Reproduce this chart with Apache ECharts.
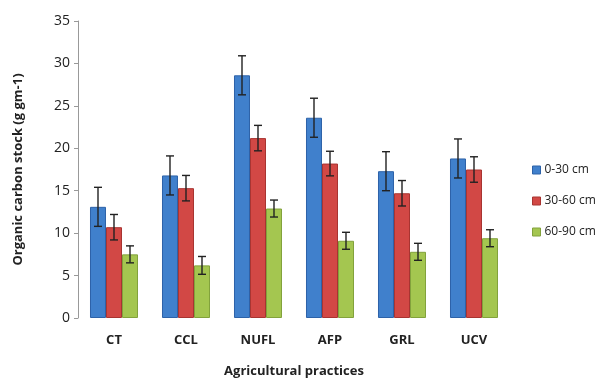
<!DOCTYPE html>
<html><head><meta charset="utf-8">
<script src="https://cdn.jsdelivr.net/npm/echarts@6/dist/echarts.min.js"></script>
<style>html,body{margin:0;padding:0;background:#fff}#c{width:603px;height:382px}</style>
</head><body><div id="c"></div>
<script>
var categories = ['CT', 'CCL', 'NUFL', 'AFP', 'GRL', 'UCV'];
var seriesNames = ['0-30 cm', '30-60 cm', '60-90 cm'];
var v0_30 = [13.1, 16.8, 28.6, 23.6, 17.3, 18.8];
var v30_60 = [10.7, 15.3, 21.2, 18.2, 14.7, 17.5];
var v60_90 = [7.5, 6.2, 12.9, 9.1, 7.8, 9.4];
var e0_30 = [2.3, 2.3, 2.3, 2.3, 2.3, 2.3];
var e30_60 = [1.5, 1.5, 1.5, 1.45, 1.5, 1.5];
var e60_90 = [1.0, 1.05, 1.0, 1.0, 1.0, 1.0];
var yTicks = [0, 5, 10, 15, 20, 25, 30, 35];

var values = [v0_30, v30_60, v60_90];
var errors = [e0_30, e30_60, e60_90];
var fills = ['#4080cc', '#d24845', '#a4c650'];
var borders = ['#2d62a8', '#a83431', '#82a23c'];
var font = '"Open Sans", "Liberation Sans", sans-serif';

var series = [];
values.forEach(function (vals, i) {
  series.push({
    name: seriesNames[i], type: 'bar', data: vals,
    barGap: '0%', barCategoryGap: '33.3%',
    itemStyle: { color: fills[i], borderColor: borders[i], borderWidth: 1 }
  });
});
values.forEach(function (vals, i) {
  series.push({
    type: 'custom', z: 10,
    data: vals.map(function (v, k) { return [k, v - errors[i][k], v + errors[i][k]]; }),
    renderItem: function (params, api) {
      var band = api.size([1, 0])[0];
      var bw = band * (2 / 3) / 3;
      var off = (i - 1) * bw;
      var lo = api.coord([api.value(0), api.value(1)]);
      var hi = api.coord([api.value(0), api.value(2)]);
      var x = lo[0] + off;
      var cap = 4;
      var st = { stroke: '#222', lineWidth: 1.4 };
      return { type: 'group', children: [
        { type: 'line', shape: { x1: x, y1: hi[1], x2: x, y2: lo[1] }, style: st },
        { type: 'line', shape: { x1: x - cap, y1: hi[1], x2: x + cap, y2: hi[1] }, style: st },
        { type: 'line', shape: { x1: x - cap, y1: lo[1], x2: x + cap, y2: lo[1] }, style: st }
      ]};
    }
  });
});

var chart = echarts.init(document.getElementById('c'), null, { renderer: 'canvas' });
chart.setOption({
  animation: false,
  backgroundColor: '#fff',
  grid: { left: 78, right: 93, top: 21, bottom: 64, outerBoundsMode: 'none', containLabel: false },
  legend: {
    orient: 'vertical', left: 527, top: 159,
    data: seriesNames.map(function (n, i) {
      return { name: n, itemStyle: { color: fills[i], borderColor: borders[i], borderWidth: 1 } };
    }),
    icon: 'rect', itemWidth: 8, itemHeight: 8, itemGap: 19,
    textStyle: { fontFamily: font, fontSize: 12, color: '#222', padding: [0, 0, 0, -1] }
  },
  xAxis: {
    type: 'category', data: categories,
    name: 'Agricultural practices', nameLocation: 'middle', nameGap: 47,
    nameTextStyle: { fontFamily: font, fontSize: 13, fontWeight: 'bold', color: '#222' },
    axisLine: { show: false }, axisTick: { show: false },
    axisLabel: { fontFamily: font, fontSize: 13, fontWeight: 'bold', color: '#222', margin: 16 }
  },
  yAxis: {
    type: 'value', min: yTicks[0], max: yTicks[yTicks.length - 1], interval: 5,
    name: 'Organic carbon stock (g gm-1)', nameLocation: 'middle', nameGap: 53,
    nameTextStyle: { fontFamily: font, fontSize: 13, fontWeight: 'bold', color: '#222' },
    axisLine: { show: true, lineStyle: { color: '#999' } },
    axisTick: { show: true, length: 4, lineStyle: { color: '#999' } },
    splitLine: { show: false },
    axisLabel: { fontFamily: font, fontSize: 14, color: '#222', margin: 8 }
  },
  series: series
});
</script></body></html>
